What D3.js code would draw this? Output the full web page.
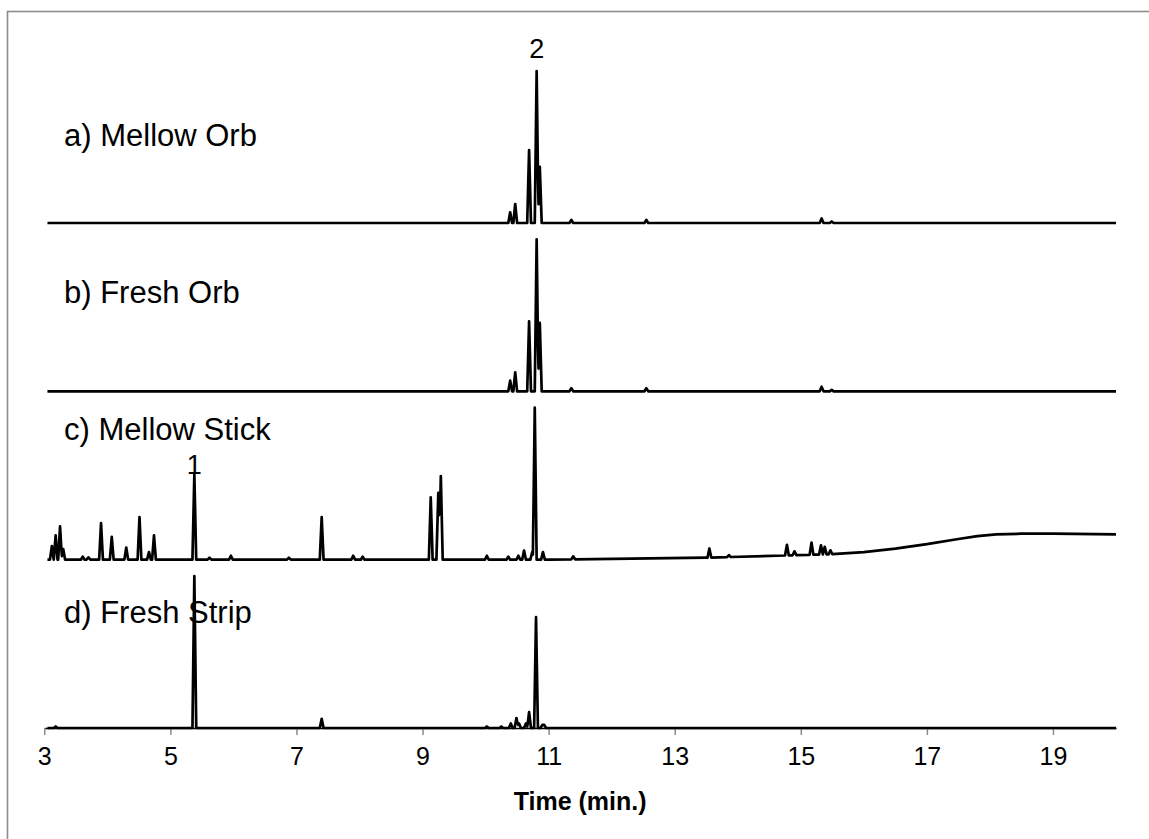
<!DOCTYPE html>
<html>
<head>
<meta charset="utf-8">
<script src="https://cdn.jsdelivr.net/npm/d3@7/dist/d3.min.js"></script>
<style>
  html, body { margin: 0; padding: 0; background: #fff; }
  svg { display: block; }
  text { font-family: "Liberation Sans", Arial, sans-serif; fill: #000; }
</style>
</head>
<body>
<svg id="chart" width="1149" height="839"></svg>
<script>
// Retention-time axis
const timeDomain = [3, 20];
const xTicks = [3, 5, 7, 9, 11, 13, 15, 17, 19];
const traceStart = 3.05;

// Panel titles, top to bottom
const panelNames = ["a) Mellow Orb", "b) Fresh Orb", "c) Mellow Stick", "d) Fresh Strip"];

// Peaks per sample: [retention time (min), relative intensity]
const mellowOrbPeaks = [
  [10.39, 7], [10.47, 12.5], [10.69, 48], [10.81, 100], [10.86, 37],
  [11.36, 2], [12.55, 2], [15.33, 3], [15.49, 1]
];
const freshOrbPeaks = [
  [10.39, 7], [10.47, 12.5], [10.69, 46], [10.81, 100], [10.86, 45],
  [11.36, 2], [12.55, 2], [15.33, 3], [15.49, 1]
];
const mellowStickPeaks = [
  [3.12, 9], [3.18, 16], [3.25, 22], [3.30, 7], [3.61, 2], [3.70, 1.5],
  [3.90, 24], [4.07, 15], [4.30, 8], [4.51, 28], [4.66, 5], [4.74, 16],
  [5.38, 56], [5.62, 1.3], [5.96, 2.6], [6.88, 1.3], [7.40, 28],
  [7.90, 2.6], [8.05, 2], [9.13, 41], [9.25, 44], [9.29, 55],
  [10.02, 2.6], [10.36, 2], [10.52, 2.6], [10.61, 6], [10.74, 5],
  [10.78, 100], [10.91, 5], [11.39, 2], [13.55, 6], [13.86, 1.3],
  [14.78, 7], [14.90, 2.6], [15.17, 8], [15.32, 6], [15.38, 5], [15.47, 2.6]
];
const freshStripPeaks = [
  [3.18, 1], [5.38, 100], [7.40, 6], [10.02, 1], [10.25, 1], [10.40, 3],
  [10.49, 6.5], [10.53, 3], [10.64, 3], [10.69, 10.5], [10.80, 73],
  [10.90, 2], [10.93, 2]
];

// Baseline rise late in the Mellow Stick run: [time, intensity]
const mellowStickDrift = [
  [11.0, 0], [13.5, 1.3], [15.5, 3.6], [16.0, 5.0], [16.5, 7.3],
  [17.0, 10.2], [17.5, 13.6], [17.8, 15.5], [18.1, 16.6], [18.5, 17.1],
  [19.0, 17.1], [20.0, 16.7]
];
const flatBaseline = [[3, 0], [20, 0]];

// Numbered compound labels: [panel index, time, text]
const compoundLabels = [[0, 10.81, "2"], [2, 5.38, "1"]];

const samples = [
  { peaks: mellowOrbPeaks, drift: flatBaseline },
  { peaks: freshOrbPeaks, drift: flatBaseline },
  { peaks: mellowStickPeaks, drift: mellowStickDrift },
  { peaks: freshStripPeaks, drift: flatBaseline }
];

const svg = d3.select("#chart");
const W = 1149, H = 839;

const x = d3.scaleLinear().domain(timeDomain).range([44.3, 1116]);
// Baseline of each stacked trace
const panelBase = d3.scaleLinear().domain([0, panelNames.length - 1]).range([223, 728]);
const peakHalfWidth = 0.03;
const intensityPx = 152; // pixel height of 100 % intensity

function yScaleFor(i) {
  const b = panelBase(i);
  return d3.scaleLinear().domain([0, 100]).range([b, b - intensityPx]);
}

// Piecewise-linear baseline
function baselineAt(drift, t) {
  if (t <= drift[0][0]) return drift[0][1];
  for (let k = 1; k < drift.length; k++) {
    if (t <= drift[k][0]) {
      const [t0, v0] = drift[k - 1], [t1, v1] = drift[k];
      return v0 + (v1 - v0) * (t - t0) / (t1 - t0);
    }
  }
  return drift[drift.length - 1][1];
}

// Vertices of the trace: baseline knots plus foot/apex of each peak
function traceVertices(sample) {
  const ts = new Set([traceStart, timeDomain[1]]);
  sample.drift.forEach(d => { if (d[0] >= traceStart) ts.add(d[0]); });
  sample.peaks.forEach(([tp]) => {
    ts.add(+(tp - peakHalfWidth).toFixed(4));
    ts.add(tp);
    ts.add(+(tp + peakHalfWidth).toFixed(4));
  });
  const times = Array.from(ts).sort((a, b) => a - b);
  return times.map(t => {
    let v = baselineAt(sample.drift, t);
    sample.peaks.forEach(([tp, h]) => {
      const f = 1 - Math.abs(t - tp) / peakHalfWidth;
      if (f > 0) v += h * f;
    });
    return [t, v];
  });
}

svg.append("rect").attr("width", W).attr("height", H).attr("fill", "#fff");

// Chart frame (left and top edges visible)
svg.append("rect")
  .attr("x", 7.5).attr("y", 11.5)
  .attr("width", W + 20).attr("height", H + 20)
  .attr("fill", "none").attr("stroke", "#8c8c8c").attr("stroke-width", 1.6);

// Time axis under the last trace
const axisY = panelBase(panelNames.length - 1);
const axis = svg.append("g")
  .attr("transform", `translate(0,${axisY})`)
  .call(d3.axisBottom(x).tickValues(xTicks).tickSize(7).tickSizeOuter(0).tickPadding(12));
axis.select(".domain").attr("stroke", "#000").attr("stroke-width", 1.5);
axis.selectAll(".tick line").attr("stroke", "#8c8c8c").attr("stroke-width", 1.5);
axis.selectAll(".tick text")
  .attr("font-family", "Liberation Sans, Arial, sans-serif")
  .attr("font-size", 25).attr("fill", "#000");

svg.append("text")
  .attr("x", (x.range()[0] + x.range()[1]) / 2)
  .attr("y", 810)
  .attr("text-anchor", "middle")
  .attr("font-size", 25).attr("font-weight", "bold")
  .text("Time (min.)");

// Traces
samples.forEach((s, i) => {
  const y = yScaleFor(i);
  const line = d3.line().x(d => x(d[0])).y(d => y(d[1]));
  svg.append("path")
    .datum(traceVertices(s))
    .attr("d", line)
    .attr("fill", "none")
    .attr("stroke", "#000")
    .attr("stroke-width", 2.7)
    .attr("stroke-linejoin", "round");
});

// Sample titles
const titleBaselines = [146, 303, 440, 623];
panelNames.forEach((name, i) => {
  svg.append("text")
    .attr("x", 64).attr("y", titleBaselines[i])
    .attr("font-size", 31)
    .text(name);
});

// Compound numbers above their peaks (gap between number and apex)
const labelGap = [13, 1];
compoundLabels.forEach(([pi, t, label], k) => {
  const s = samples[pi];
  const y = yScaleFor(pi);
  const pk = s.peaks.find(p => p[0] === t);
  svg.append("text")
    .attr("x", x(t)).attr("y", y(pk[1]) - labelGap[k])
    .attr("text-anchor", "middle")
    .attr("font-size", 27)
    .text(label);
});
</script>
</body>
</html>
